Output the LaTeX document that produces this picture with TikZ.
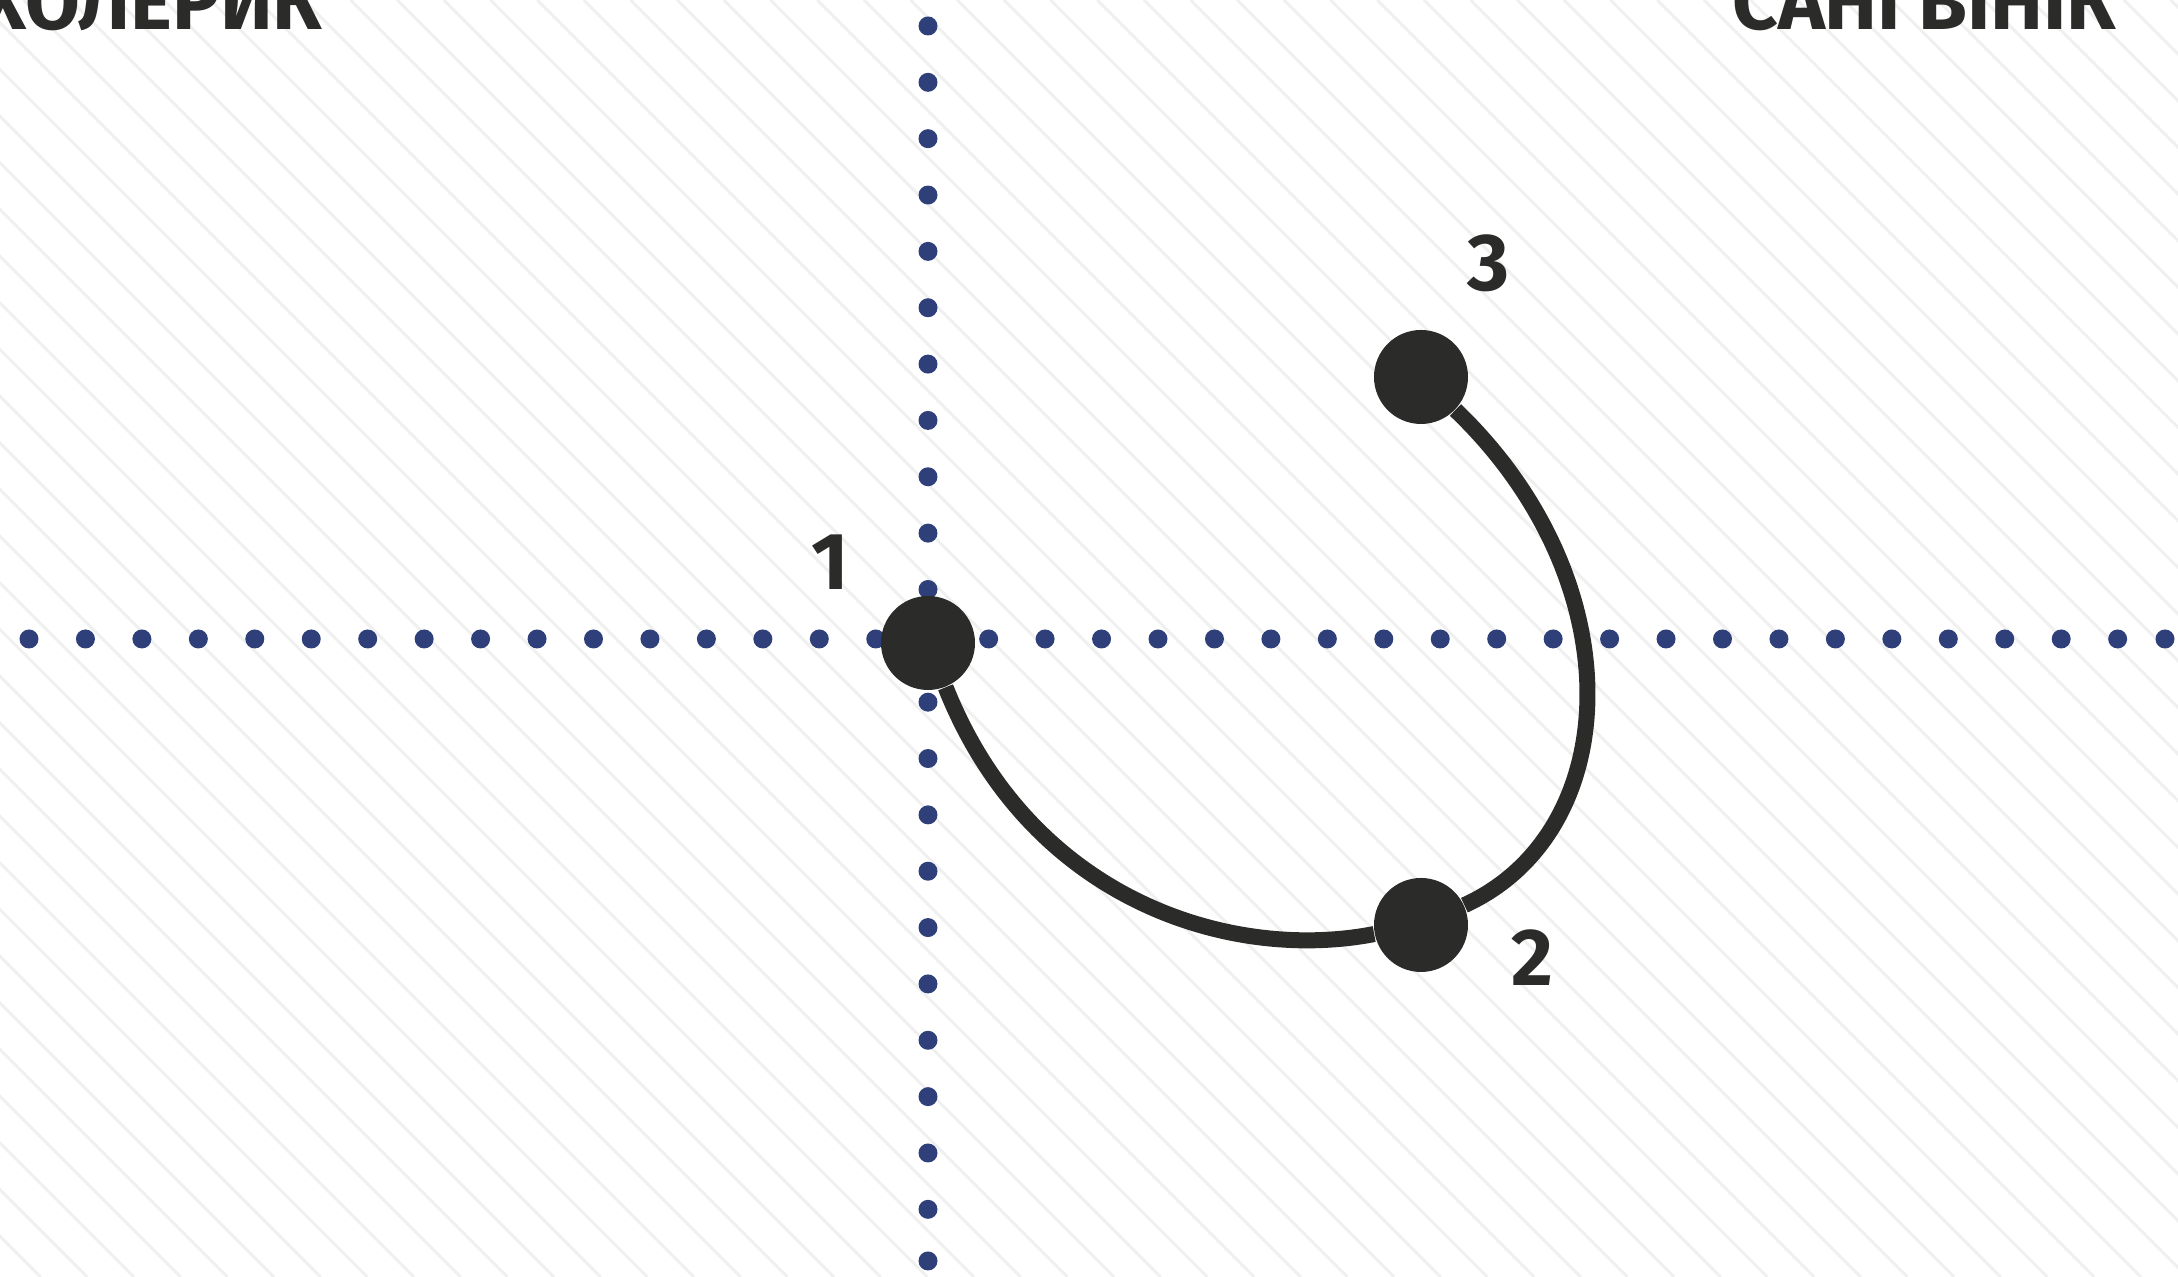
\documentclass[tikz,border=0pt]{standalone}
\usepackage{fontspec}
\setmainfont{Fira Sans}
\usepackage{tikz}

\definecolor{inkdark}{HTML}{2B2B2A}
\definecolor{dotblue}{HTML}{2E3F7A}
\definecolor{hatchgray}{HTML}{F0F0F0}

\begin{document}
\begin{tikzpicture}[
				      point/.style = {shape=circle, fill=inkdark, draw=none,
						      minimum size=0.94cm, inner sep=0pt},
				      num/.style = {inner sep=0pt, text=inkdark,
						      font=\fontsize{23}{25}\selectfont\bfseries},
				      corner/.style = {inner sep=0pt, anchor=base east, text=inkdark,
						      font=\fontsize{22.6}{24}\selectfont\bfseries},
				      link/.style={draw=inkdark, line width=0.16cm},
				      scale=1
			      ]

			      \useasboundingbox (0,0) rectangle (21.78,12.77);

			      % hatched background
			      \begin{scope}
				      \clip (0,0) rectangle (21.78,12.77);
				      \foreach \c in {-12.83,-12.3633,...,21.8}
				      \draw[hatchgray, line width=0.03cm] (\c,12.77) -- ++(12.77,-12.77);
			      \end{scope}

			      % dotted axes
			      \foreach \i in {0,...,37}
			      \fill[dotblue] (0.29+0.5645*\i,6.38) circle (0.095);
			      \fill[dotblue] (21.65,6.38) circle (0.095);
			      \foreach \i in {0,...,21}
			      \fill[dotblue] (9.28,12.51-0.5635*\i) circle (0.095);
			      \fill[dotblue] (9.28,0.16) circle (0.095);

			      \node[corner] (chol) at (3.23,12.47) {ХОЛЕРИК};
			      \node[corner] (sang) at (21.17,12.47) {САНГВІНІК};

			      \node[point] (n1) at (9.28,6.34) {};
			      \node[point] (n2) at (14.21,3.52) {};
			      \node[point] (n3) at (14.21,9.00) {};

			      \node[num] (l1) at (8.30,7.15) {1};
			      \node[num] (l2) at (15.32,3.19) {2};
			      \node[num] (l3) at (14.89,10.14) {3};

			      \draw[link] (n1) .. controls (10.30,3.77) and (12.30,3.15) .. (n2);
			      \draw[link] (n2) .. controls (16.25,4.45) and (16.35,6.95) .. (n3);
		      \end{tikzpicture}
\end{document}
